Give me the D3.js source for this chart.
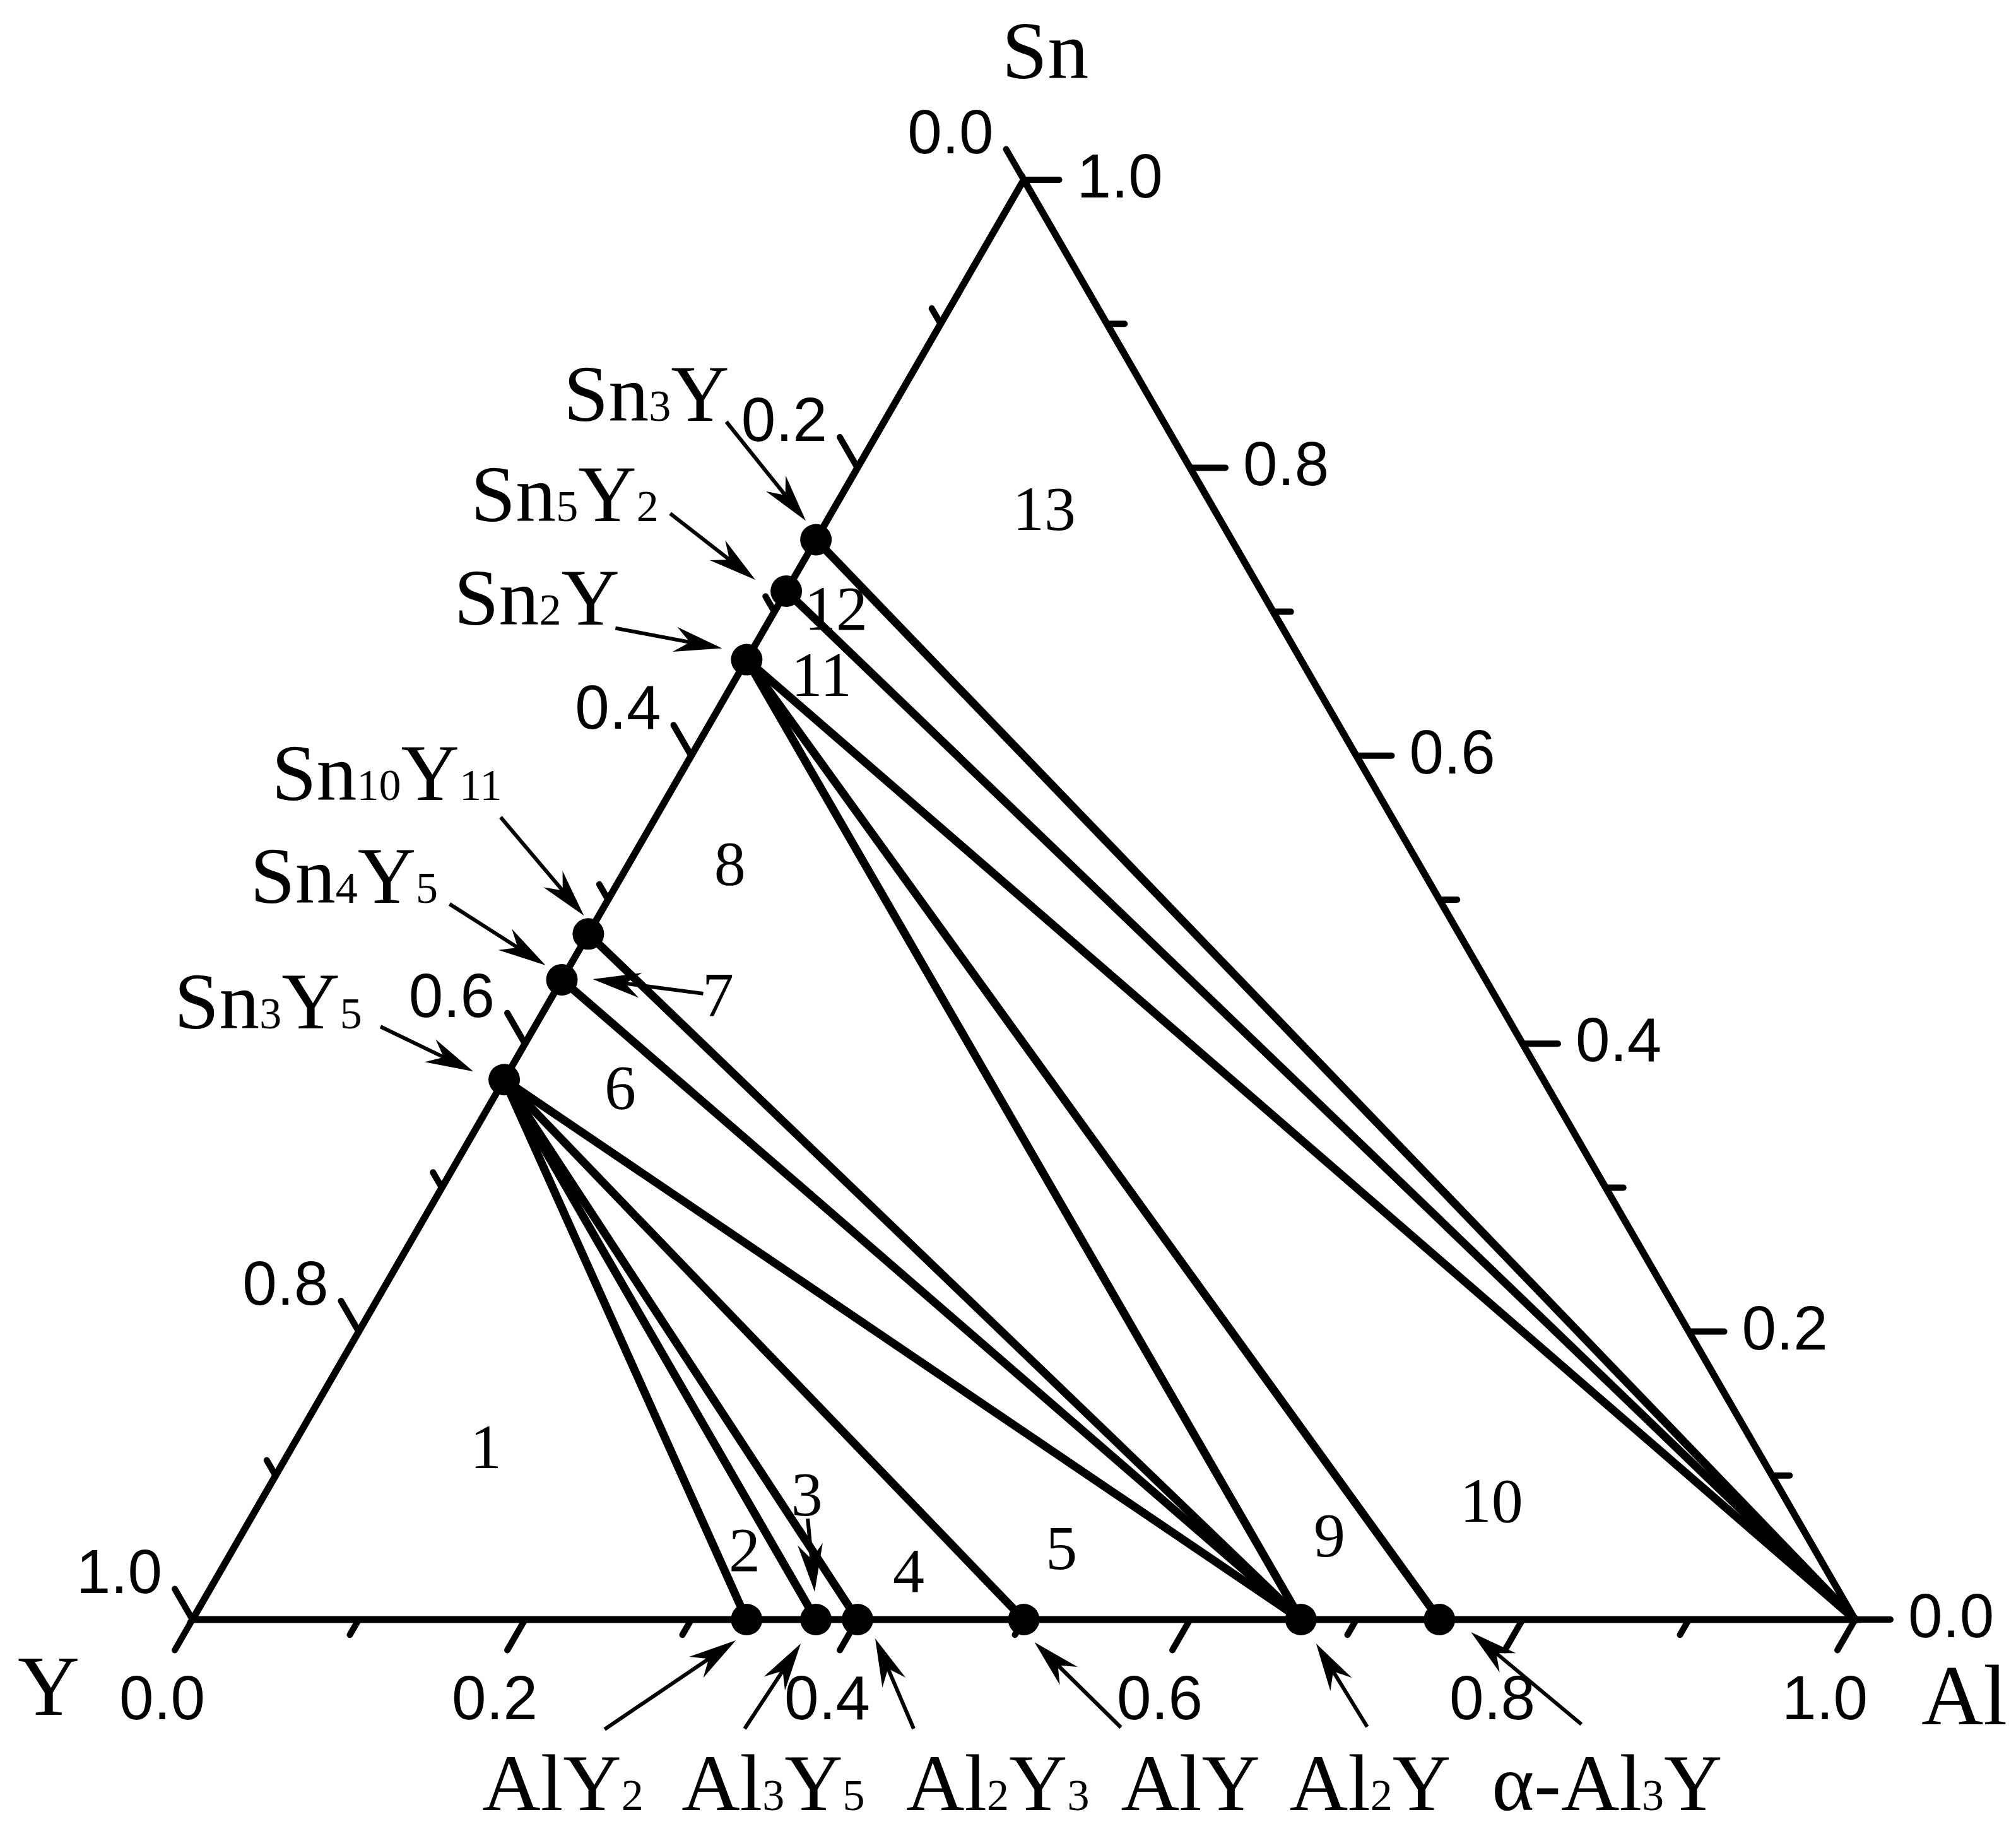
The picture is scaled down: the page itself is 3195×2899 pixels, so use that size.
<!DOCTYPE html>
<html>
<head>
<meta charset="utf-8">
<script src="https://cdn.jsdelivr.net/npm/d3@7"></script>
<style>
html,body{margin:0;padding:0;background:#ffffff;}
svg{display:block;}
</style>
</head>
<body>
<script>
// ================= DATA =================
// Components at the corners
const vertexNames = ["Y", "Sn", "Al"];

// Sn–Y binary compounds (mole fraction of Sn)
const snYPhases = ["Sn3Y", "Sn5Y2", "Sn2Y", "Sn10Y11", "Sn4Y5", "Sn3Y5"];
const snYSnFraction = [0.7500, 0.7143, 0.6667, 0.4762, 0.4444, 0.3750];

// Al–Y binary compounds (mole fraction of Al)
const alYPhases = ["AlY2", "Al3Y5", "Al2Y3", "AlY", "Al2Y", "α-Al3Y"];
const alYAlFraction = [0.3333, 0.3750, 0.4000, 0.5000, 0.6667, 0.7500];

// Tie lines (phase pairs)
const tieFrom = ["Sn3Y", "Sn5Y2", "Sn2Y", "Sn2Y", "Sn2Y", "Sn10Y11", "Sn4Y5", "Sn3Y5", "Sn3Y5", "Sn3Y5", "Sn3Y5", "Sn3Y5"];
const tieTo   = ["Al",   "Al",    "Al",   "α-Al3Y", "Al2Y", "Al2Y",  "Al2Y",  "Al2Y",  "AlY",   "Al2Y3", "Al3Y5", "AlY2"];

// Phase-field numbers and their positions (Al fraction, Sn fraction)
const regionNames = ["1", "2", "3", "4", "5", "6", "7", "8", "9", "10", "11", "12", "13"];
const regionAl = [0.1239, 0.3152, 0.3334, 0.4211, 0.5051, 0.0798, 0.1064, 0.0680, 0.6620, 0.7474, 0.0576, 0.0433, 0.1339];
const regionSn = [0.1052, 0.0337, 0.0723, 0.0193, 0.0351, 0.3550, 0.4194, 0.5105, 0.0438, 0.0679, 0.6415, 0.6876, 0.7568];

// Axis ticks
const tickValues = [0.0, 0.1, 0.2, 0.3, 0.4, 0.5, 0.6, 0.7, 0.8, 0.9, 1.0];
const tickLabelValues = [0.0, 0.2, 0.4, 0.6, 0.8, 1.0];

// ================= LAYOUT =================
const W = 3195, H = 2899;
const S3 = Math.sqrt(3) / 2;
const x = d3.scaleLinear().domain([0, 1]).range([305, 2940]);
const y = d3.scaleLinear().domain([0, S3]).range([2567, 285]);
function pt(al, sn) { return [x(al + sn / 2), y(sn * S3)]; }

const serif = "'Liberation Serif','Times New Roman',Times,serif";
const sans = "'Liberation Sans',Arial,Helvetica,sans-serif";

// Annotation placement (pixel offsets from the phase's point)
const labelLayout = {
  "Sn3Y":    {text: [-400, -189], tail: [-142, -187], tip: [-16, -30]},
  "Sn5Y2":   {text: [-500, -111], tail: [-184, -123], tip: [-49, -18]},
  "Sn2Y":    {text: [-464, -56],  tail: [-208, -50],  tip: [-39, -18]},
  "Sn10Y11": {text: [-502, -212], tail: [-139, -185], tip: [-7, -29]},
  "Sn4Y5":   {text: [-494, -122], tail: [-178, -120], tip: [-26, -23]},
  "Sn3Y5":   {text: [-523, -81],  tail: [-196, -84],  tip: [-49, -13]},
  "AlY2":    {text: [-419, 302],  tail: [-225, 174],  tip: [-17, 33]},
  "Al3Y5":   {text: [-213, 302],  tail: [-113, 173],  tip: [-24, 38]},
  "Al2Y3":   {text: [77, 302],    tail: [89, 173],    tip: [28, 30]},
  "AlY":     {text: [154, 302],   tail: [154, 171],   tip: [17, 36]},
  "Al2Y":    {text: [-18, 302],   tail: [105, 170],   tip: [24, 38]},
  "α-Al3Y":  {text: [83, 302],    tail: [225, 166],   tip: [50, 20]}
};
// extra arrows for region numbers 7 and 3
const extraArrows = [
  {anchor: "Sn4Y5", tail: [224, 22], tip: [49, -1]},
  {anchor: "Al3Y5", tail: [-13, -160], tip: [-2, -44]}
];
const vertexLayout = {
  "Sn": {off: [34, -161], anchor: "middle"},
  "Y":  {off: [-228, 151], anchor: "middle"},
  "Al": {off: [105, 166], anchor: "start"}
};

// ================= BUILD =================
const phasePos = {};
snYPhases.forEach((n, i) => { phasePos[n] = pt(0, snYSnFraction[i]); });
alYPhases.forEach((n, i) => { phasePos[n] = pt(alYAlFraction[i], 0); });
phasePos["Al"] = pt(1, 0);
const vertexPos = {"Y": pt(0, 0), "Sn": pt(0, 1), "Al": pt(1, 0)};

const svg = d3.select("body").append("svg")
  .attr("width", W).attr("height", H)
  .attr("viewBox", `0 0 ${W} ${H}`);
svg.append("rect").attr("width", W).attr("height", H).attr("fill", "#fff");

// Triangle frame
svg.append("path")
  .attr("d", d3.line()([vertexPos.Y, vertexPos.Sn, vertexPos.Al]) + "Z")
  .attr("fill", "none").attr("stroke", "#000").attr("stroke-width", 11)
  .attr("stroke-linejoin", "miter");

// Ticks
const majorLen = 56, minorLen = 28;
const isMajor = v => tickLabelValues.some(t => Math.abs(t - v) < 1e-9);
const fmt = d3.format(".1f");
const axes = [
  {base: v => pt(v, 0), dir: [-0.5, S3]},       // bottom: Al fraction
  {base: v => pt(0, 1 - v), dir: [-0.5, -S3]},  // left: Y fraction
  {base: v => pt(1 - v, v), dir: [1, 0]}        // right: Sn fraction
];
const gTicks = svg.append("g").attr("stroke", "#000").attr("stroke-width", 10).attr("stroke-linecap", "round");
const gTickLabels = svg.append("g").attr("font-family", sans).attr("font-size", 98).attr("fill", "#000");
axes.forEach((ax, ai) => {
  tickValues.forEach(v => {
    const b = ax.base(v);
    const L = isMajor(v) ? majorLen : minorLen;
    const e = [b[0] + ax.dir[0] * L, b[1] + ax.dir[1] * L];
    gTicks.append("line").attr("x1", b[0]).attr("y1", b[1]).attr("x2", e[0]).attr("y2", e[1]);
    if (isMajor(v)) {
      const t = gTickLabels.append("text").text(fmt(v));
      if (ai === 0) t.attr("x", e[0] - 20).attr("y", e[1] + 110).attr("text-anchor", "middle");
      else if (ai === 1) t.attr("x", e[0] - 20).attr("y", e[1] + 6).attr("text-anchor", "end");
      else t.attr("x", e[0] + 28).attr("y", b[1] + 28).attr("text-anchor", "start");
    }
  });
});

// Tie lines
svg.append("g").attr("stroke", "#000").attr("stroke-width", 13).attr("stroke-linecap", "round")
  .selectAll("line").data(tieFrom.map((f, i) => [phasePos[f], phasePos[tieTo[i]]]))
  .join("line")
  .attr("x1", d => d[0][0]).attr("y1", d => d[0][1])
  .attr("x2", d => d[1][0]).attr("y2", d => d[1][1]);

// Phase points
const allPhases = snYPhases.concat(alYPhases);
svg.append("g").selectAll("circle").data(allPhases).join("circle")
  .attr("cx", d => phasePos[d][0]).attr("cy", d => phasePos[d][1])
  .attr("r", 25).attr("fill", "#000");

// Arrows
function drawArrow(g, tail, tip) {
  const dx = tip[0] - tail[0], dy = tip[1] - tail[1], len = Math.hypot(dx, dy);
  const ux = dx / len, uy = dy / len, px = -uy, py = ux;
  const HL = 76, HW = 20, NL = 52;
  const b = [tip[0] - ux * HL, tip[1] - uy * HL];
  const n = [tip[0] - ux * NL, tip[1] - uy * NL];
  g.append("line").attr("x1", tail[0]).attr("y1", tail[1]).attr("x2", n[0]).attr("y2", n[1])
    .attr("stroke", "#000").attr("stroke-width", 6);
  g.append("path")
    .attr("d", `M${tip[0]},${tip[1]}L${b[0] + px * HW},${b[1] + py * HW}L${n[0]},${n[1]}L${b[0] - px * HW},${b[1] - py * HW}Z`)
    .attr("fill", "#000");
}
const gArrows = svg.append("g");
allPhases.forEach(n => {
  const p = phasePos[n], l = labelLayout[n];
  drawArrow(gArrows, [p[0] + l.tail[0], p[1] + l.tail[1]], [p[0] + l.tip[0], p[1] + l.tip[1]]);
});
extraArrows.forEach(a => {
  const p = phasePos[a.anchor];
  drawArrow(gArrows, [p[0] + a.tail[0], p[1] + a.tail[1]], [p[0] + a.tip[0], p[1] + a.tip[1]]);
});

// Compound labels with subscripts
const gLabels = svg.append("g").attr("font-family", serif).attr("font-size", 128).attr("fill", "#000");
allPhases.forEach(n => {
  const p = phasePos[n], l = labelLayout[n];
  const t = gLabels.append("text").attr("x", p[0] + l.text[0]).attr("y", p[1] + l.text[1]);
  const parts = n.match(/(\d+|[^\d]+)/g);
  parts.forEach(s => {
    const ts = t.append("tspan").text(s);
    if (/^\d+$/.test(s)) ts.attr("font-size", 70);
  });
});

// Region numbers
svg.append("g").attr("font-family", serif).attr("font-size", 100).attr("text-anchor", "middle")
  .selectAll("text").data(regionNames).join("text")
  .attr("x", (d, i) => pt(regionAl[i], regionSn[i])[0])
  .attr("y", (d, i) => pt(regionAl[i], regionSn[i])[1])
  .text(d => d);

// Vertex labels
vertexNames.forEach(n => {
  const p = vertexPos[n], l = vertexLayout[n];
  svg.append("text").attr("x", p[0] + l.off[0]).attr("y", p[1] + l.off[1])
    .attr("text-anchor", l.anchor).attr("font-family", serif).attr("font-size", n === "Sn" ? 130 : 136)
    .text(n);
});
</script>
</body>
</html>
